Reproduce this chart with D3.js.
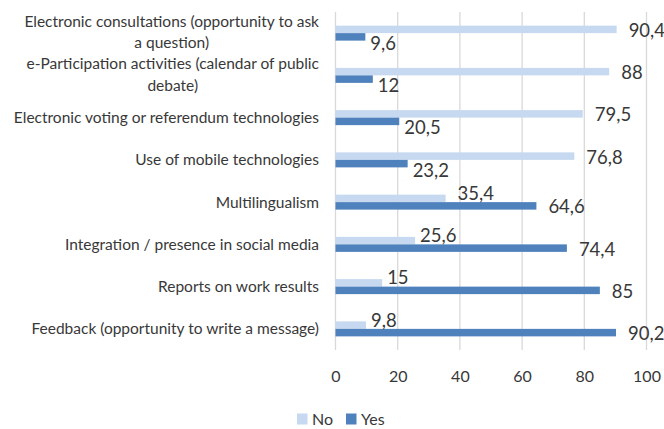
<!DOCTYPE html>
<html>
<head>
<meta charset="utf-8">
<script src="https://cdn.jsdelivr.net/npm/d3@7"></script>
<style>
  html, body { margin: 0; padding: 0; background: #ffffff; }
  svg { display: block; font-family: Lato, "Open Sans", sans-serif; }
</style>
</head>
<body>
<svg id="chart" width="664" height="429"></svg>
<script>
// Website features: share of sites with / without each feature (%)
const categories = [
  "Electronic consultations (opportunity to ask|a question)",
  "e-Participation activities (calendar of public|debate)",
  "Electronic voting or referendum technologies",
  "Use of mobile technologies",
  "Multilingualism",
  "Integration / presence in social media",
  "Reports on work results",
  "Feedback (opportunity to write a message)"
];
const seriesNames = ["No", "Yes"];
const noValues  = [90.4, 88, 79.5, 76.8, 35.4, 25.6, 15, 9.8];
const yesValues = [9.6, 12, 20.5, 23.2, 64.6, 74.4, 85, 90.2];
const xTicks = [0, 20, 40, 60, 80, 100];

const colors = { No: "#c6d9f0", Yes: "#4f81bd" };
const textColor = "#383838";

const svg = d3.select("#chart");
const plot = { left: 335.5, right: 646.5, top: 12, bottom: 350 };

const x = d3.scaleLinear().domain([0, 100]).range([plot.left, plot.right]);
const y = d3.scaleBand().domain(categories)
  .range([plot.top, plot.bottom])
  .paddingInner(0.645).paddingOuter(0.3225);
const ySub = d3.scaleBand().domain(seriesNames).range([0, y.bandwidth()]);

// vertical gridlines
svg.append("g")
  .selectAll("line")
  .data(xTicks)
  .join("line")
  .attr("x1", d => x(d)).attr("x2", d => x(d))
  .attr("y1", plot.top).attr("y2", plot.bottom)
  .attr("stroke", "#d9d9d9").attr("stroke-width", 1.3);

// x axis labels
const xAxis = d3.axisBottom(x).tickValues(xTicks).tickSize(0).tickPadding(21)
  .tickFormat(d3.format("d"));
const gx = svg.append("g").attr("transform", `translate(0,${plot.bottom})`).call(xAxis);
gx.select(".domain").remove();
gx.selectAll("text")
  .attr("fill", textColor)
  .style("font-size", "16px")
  .style("font-family", "Lato, 'Open Sans', sans-serif");

// bars
const rows = categories.map((c, i) => ({ cat: c, No: noValues[i], Yes: yesValues[i] }));
const groups = svg.append("g").selectAll("g")
  .data(rows)
  .join("g")
  .attr("transform", d => `translate(0,${y(d.cat)})`);

groups.selectAll("rect")
  .data(d => seriesNames.map(s => ({ s, v: d[s] })))
  .join("rect")
  .attr("x", x(0))
  .attr("y", d => ySub(d.s))
  .attr("width", d => x(d.v) - x(0))
  .attr("height", ySub.bandwidth())
  .attr("fill", d => colors[d.s]);

// value labels (decimal comma); the smaller share of each pair is
// nudged away from the other label
const fmt = v => String(v).replace(".", ",");
groups.selectAll("text.val")
  .data(d => seriesNames.map(s => ({ s, v: d[s] })))
  .join("text")
  .attr("class", "val")
  .attr("x", d => x(d.v) + (d.v < 30 ? 5 : 12))
  .attr("y", d => {
    const mid = ySub(d.s) + ySub.bandwidth() / 2;
    if (d.v >= 50) return mid + 1;
    return mid + (d.s === "No" ? -5 : 6.5);
  })
  .attr("dy", "0.35em")
  .attr("fill", textColor)
  .style("font-size", "18.5px")
  .text(d => fmt(d.v));

// category labels: right-aligned block, wrapped lines centred within it
const labelRight = 319;
const lineH = 21.5;
const catG = svg.append("g");
categories.forEach(c => {
  const lines = c.split("|");
  const g = catG.append("g");
  const texts = lines.map(() => g.append("text")
    .attr("fill", textColor).style("font-size", "15.5px"));
  texts.forEach((t, j) => t.text(lines[j]));
  const maxW = d3.max(texts, t => t.node().getComputedTextLength());
  const cy = y(c) + y.bandwidth() / 2;
  texts.forEach((t, j) => {
    t.attr("text-anchor", "middle")
     .attr("x", labelRight - maxW / 2)
     .attr("y", cy + (j - (lines.length - 1) / 2) * lineH - (lines.length > 1 ? 1 : 0))
     .attr("dy", "0.35em");
  });
});

// legend
const legend = svg.append("g").attr("transform", "translate(297,419)");
const legItems = [{ s: "No", x: 0 }, { s: "Yes", x: 49 }];
legItems.forEach(it => {
  legend.append("rect").attr("x", it.x).attr("y", -5.5)
    .attr("width", 10.5).attr("height", 11).attr("fill", colors[it.s]);
  legend.append("text").attr("x", it.x + 15).attr("y", 0).attr("dy", "0.35em")
    .attr("fill", textColor).style("font-size", "16px").text(it.s);
});
</script>
</body>
</html>
